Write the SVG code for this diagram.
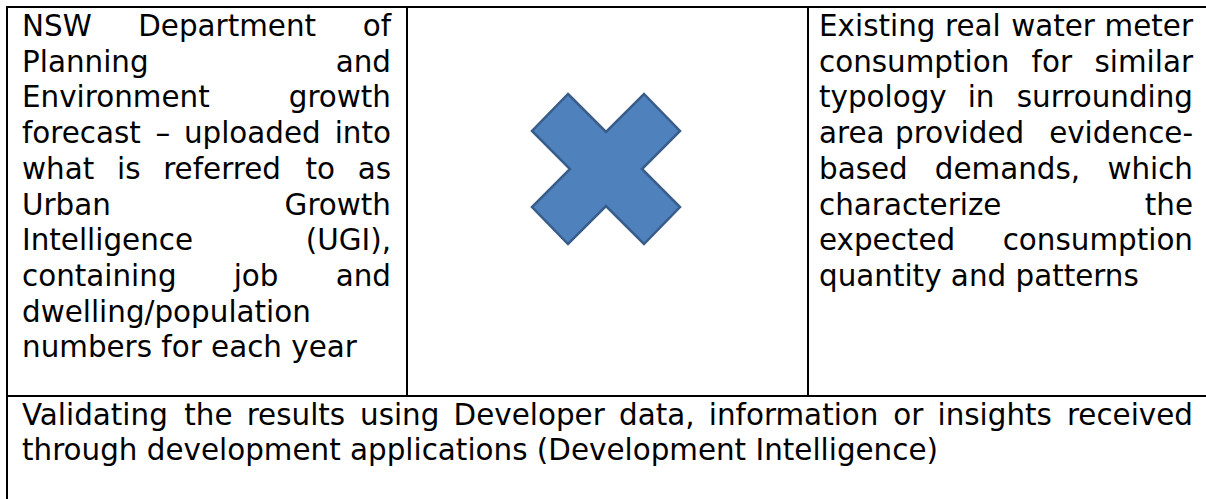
<svg xmlns="http://www.w3.org/2000/svg" width="1206" height="499" viewBox="0 0 1206 499">
  <style>
    .t { font-family: "DejaVu Sans", Verdana, sans-serif; font-size: 29.4px; fill: #000; }
    .e { text-anchor: end; }
    .rule { stroke: #000; stroke-width: 2; fill: none; }
    .cross { fill: #4f81bd; stroke: #385d8a; stroke-width: 2.5; stroke-linejoin: miter; }
  </style>
  <rect x="0" y="0" width="1206" height="499" fill="#fff"/>

  <g id="table-lines">
    <line class="rule" x1="6" y1="7" x2="1206" y2="7"/>
    <line class="rule" x1="7" y1="6" x2="7" y2="499"/>
    <line class="rule" x1="407" y1="7" x2="407" y2="396"/>
    <line class="rule" x1="808" y1="7" x2="808" y2="396"/>
    <line class="rule" x1="6" y1="396" x2="1206" y2="396"/>
  </g>

  <g id="cell-left">
    <text class="t" x="22" y="36">NSW</text>
    <text class="t" x="138.2" y="36">Department</text>
    <text class="t e" x="391" y="36">of</text>
    <text class="t" x="22" y="71.7">Planning</text>
    <text class="t e" x="391" y="71.7">and</text>
    <text class="t" x="22" y="107.4">Environment</text>
    <text class="t e" x="391" y="107.4">growth</text>
    <text class="t" x="22" y="143.1">forecast</text>
    <text class="t" x="155.4" y="143.1">–</text>
    <text class="t" x="183.9" y="143.1">uploaded</text>
    <text class="t e" x="391" y="143.1">into</text>
    <text class="t" x="22" y="178.8">what</text>
    <text class="t" x="117" y="178.8">is</text>
    <text class="t" x="163.2" y="178.8">referred</text>
    <text class="t" x="305.4" y="178.8">to</text>
    <text class="t e" x="391" y="178.8">as</text>
    <text class="t" x="22" y="214.5">Urban</text>
    <text class="t e" x="391" y="214.5">Growth</text>
    <text class="t" x="22" y="250.2">Intelligence</text>
    <text class="t e" x="391" y="250.2">(UGI),</text>
    <text class="t" x="22" y="285.9">containing</text>
    <text class="t" x="233.7" y="285.9">job</text>
    <text class="t e" x="391" y="285.9">and</text>
    <text class="t" x="22" y="321.6">dwelling/population</text>
    <text class="t" x="22" y="357.3">numbers for each year</text>
  </g>

  <g id="cell-center">
    <polygon class="cross" points="568,94 606,132 644,94 680,131 642,169 680,207 644,244 606,206 568,244 532,207 570,169 532,131"/>
  </g>

  <g id="cell-right">
    <text class="t" x="819" y="36">Existing</text>
    <text class="t" x="945.1" y="36">real</text>
    <text class="t" x="1011.2" y="36">water</text>
    <text class="t e" x="1193" y="36">meter</text>
    <text class="t" x="819" y="71.7">consumption</text>
    <text class="t" x="1031.6" y="71.7">for</text>
    <text class="t e" x="1193" y="71.7">similar</text>
    <text class="t" x="819" y="107.4">typology</text>
    <text class="t" x="967.7" y="107.4">in</text>
    <text class="t e" x="1193" y="107.4">surrounding</text>
    <text class="t" x="819" y="143.1">area</text>
    <text class="t" x="895.1" y="143.1">provided</text>
    <text class="t e" x="1193" y="143.1">evidence-</text>
    <text class="t" x="819" y="178.8">based</text>
    <text class="t" x="934.8" y="178.8">demands,</text>
    <text class="t e" x="1193" y="178.8">which</text>
    <text class="t" x="819" y="214.5">characterize</text>
    <text class="t e" x="1193" y="214.5">the</text>
    <text class="t" x="819" y="250.2">expected</text>
    <text class="t e" x="1193" y="250.2">consumption</text>
    <text class="t" x="819" y="285.9">quantity and patterns</text>
  </g>

  <g id="cell-bottom">
    <text class="t" x="22" y="424.5">Validating</text>
    <text class="t" x="184.3" y="424.5">the</text>
    <text class="t" x="246.7" y="424.5">results</text>
    <text class="t" x="360" y="424.5">using</text>
    <text class="t" x="453.6" y="424.5">Developer</text>
    <text class="t" x="619" y="424.5">data,</text>
    <text class="t" x="708.8" y="424.5">information</text>
    <text class="t" x="893.2" y="424.5">or</text>
    <text class="t" x="937.5" y="424.5">insights</text>
    <text class="t e" x="1193" y="424.5">received</text>
    <text class="t" x="22" y="460.2">through development applications (Development Intelligence)</text>
  </g>
</svg>
